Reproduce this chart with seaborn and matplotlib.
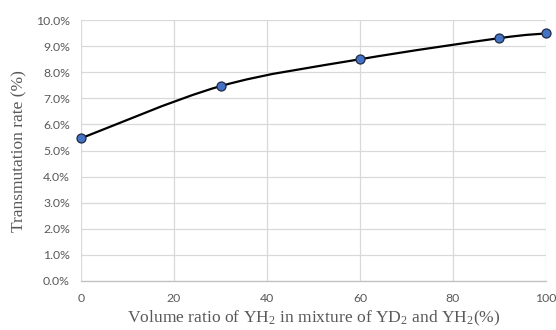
import numpy as np
import pandas as pd
import seaborn as sns
import matplotlib
matplotlib.use("Agg")
import matplotlib.pyplot as plt
from matplotlib.path import Path
from matplotlib.patches import PathPatch
from matplotlib.ticker import PercentFormatter

# Measured transmutation rate against YH2 volume fraction
volume_ratio = [0, 30, 60, 90, 100]
transmutation_rate = [5.47, 7.47, 8.50, 9.31, 9.49]
x_ticks = [0, 20, 40, 60, 80, 100]
y_ticks = [0, 1, 2, 3, 4, 5, 6, 7, 8, 9, 10]

df = pd.DataFrame({"ratio": volume_ratio, "rate": transmutation_rate})

sns.set_theme(style="white")
plt.rcParams["font.family"] = ["Lato", "DejaVu Sans"]
plt.rcParams["mathtext.fontset"] = "custom"
plt.rcParams["mathtext.rm"] = "Liberation Serif"
plt.rcParams["mathtext.default"] = "rm"

fig = plt.figure(figsize=(5.56, 3.30), dpi=100)
ax = fig.add_axes([0.1457, 0.1485, 0.8363, 0.7905])

# Smoothed connecting curve: cubic Bezier segments with Catmull-Rom style tangents
xs = np.asarray(df["ratio"], float)
ys = np.asarray(df["rate"], float)
n = len(xs)
verts = [(xs[0], ys[0])]
codes = [Path.MOVETO]
t = 1.0 / 6.0
for i in range(n - 1):
    p0 = np.array([xs[max(i - 1, 0)], ys[max(i - 1, 0)]])
    p1 = np.array([xs[i], ys[i]])
    p2 = np.array([xs[i + 1], ys[i + 1]])
    p3 = np.array([xs[min(i + 2, n - 1)], ys[min(i + 2, n - 1)]])
    c1 = p1 + (p2 - p0) * t
    c2 = p2 - (p3 - p1) * t
    verts += [tuple(c1), tuple(c2), tuple(p2)]
    codes += [Path.CURVE4] * 3
curve = PathPatch(Path(verts, codes), facecolor="none", edgecolor="black",
                  linewidth=1.6, zorder=3, capstyle="round")
ax.add_patch(curve)

sns.scatterplot(data=df, x="ratio", y="rate", ax=ax, s=42, color="#4472C4",
                edgecolor="#1f2a44", linewidth=0.9, zorder=4, clip_on=False,
                legend=False)

ax.set_xlim(0, 100)
ax.set_ylim(0, 10)
ax.set_xticks(x_ticks)
ax.set_yticks(y_ticks)
ax.yaxis.set_major_formatter(PercentFormatter(decimals=1))
ax.grid(True, color="#d9d9d9", linewidth=0.9)
ax.set_axisbelow(True)
for side in ["top", "right", "left"]:
    ax.spines[side].set_visible(False)
ax.spines["bottom"].set_color("#bfbfbf")
ax.spines["bottom"].set_linewidth(0.9)
ax.tick_params(axis="both", length=0, labelsize=8.8, labelcolor="#595959")
ax.tick_params(axis="x", pad=9)
ax.tick_params(axis="y", pad=8)

ax.set_xlabel("Volume ratio of YH$_2$ in mixture of YD$_2$ and YH$_2$(%)",
              family="Liberation Serif", fontsize=12.6, color="#595959", labelpad=3)
ax.set_ylabel("Transmutation rate (%)", family="Liberation Serif",
              fontsize=12.5, color="#595959", labelpad=6)

fig.savefig("out.png", dpi=100)
